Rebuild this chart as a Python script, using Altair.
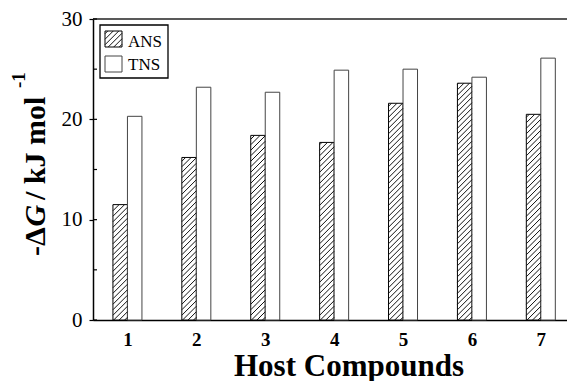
import altair as alt
import pandas as pd

# Binding free energies for the seven host compounds
compounds = [1, 2, 3, 4, 5, 6, 7]
ans_values = [11.5, 16.2, 18.4, 17.7, 21.6, 23.6, 20.5]
tns_values = [20.3, 23.2, 22.7, 24.9, 25.0, 24.2, 26.1]
series = ["ANS", "TNS"]
y_major = [0, 10, 20, 30]
y_minor = [5, 15, 25]

# plot geometry
W, H = 474, 301
X_MIN, X_MAX = 0.5, 7.38
Y_MAX = 30
KX = W / (X_MAX - X_MIN)   # px per x unit
KY = H / Y_MAX             # px per y unit
BAR = 14.5 / KX            # bar width in x units
SERIF = "Liberation Serif"


def px_x(p):
    return X_MIN + p / KX


def px_y(p):
    return Y_MAX - p / KY


def hatch_rect(x0, x1, y_bot, y_top, step=5.5):
    """45-degree hatch segments inside a rectangle given in data units."""
    w = (x1 - x0) * KX
    h = (y_top - y_bot) * KY
    rows = []
    c = -w + step / 2
    while c < h:
        u0, u1 = max(0.0, -c), min(w, h - c)
        if u1 > u0:
            rows.append({
                "hx": x0 + u0 / KX, "hy": y_bot + (u0 + c) / KY,
                "hx2": x0 + u1 / KX, "hy2": y_bot + (u1 + c) / KY,
            })
        c += step
    return rows


rows = []
for c, a, t in zip(compounds, ans_values, tns_values):
    rows.append({"compound": c, "series": series[0], "value": a, "x0": c - BAR, "x1": c})
    rows.append({"compound": c, "series": series[1], "value": t, "x0": c, "x1": c + BAR})
bars = pd.DataFrame(rows)

hatch_rows = []
for _, r in bars[bars.series == series[0]].iterrows():
    hatch_rows += hatch_rect(r.x0, r.x1, 0, r.value)

# legend geometry (pixel offsets inside the plot area)
legend_box = pd.DataFrame([{"lx": px_x(7), "lx2": px_x(75), "ly": px_y(6), "ly2": px_y(59)}])
legend_swatch = pd.DataFrame([
    {"series": series[0], "lx": px_x(12), "lx2": px_x(29), "ly": px_y(12), "ly2": px_y(28), "ty": px_y(27.5)},
    {"series": series[1], "lx": px_x(12), "lx2": px_x(29), "ly": px_y(37), "ly2": px_y(53), "ty": px_y(51)},
])
legend_swatch["tx"] = px_x(35)
legend_hatch = pd.DataFrame(hatch_rect(px_x(12), px_x(29), px_y(28), px_y(12)))
hatches = pd.DataFrame(hatch_rows)

xs = alt.Scale(domain=[X_MIN, X_MAX], nice=False, zero=False)
ys = alt.Scale(domain=[0, Y_MAX], nice=False)

x_axis = alt.Axis(values=compounds, format="d", title=None, ticks=False, grid=False,
                  labelFont=SERIF, labelFontWeight="bold", labelFontSize=19,
                  labelPadding=10, labelColor="black",
                  domainColor="black", domainWidth=1.5)
y_axis = alt.Axis(values=y_major, title=None, grid=False, tickSize=4,
                  tickColor="black", tickWidth=1.2,
                  labelFont=SERIF, labelFontSize=21, labelPadding=7, labelColor="black",
                  domainColor="black", domainWidth=1.5)


def X(field):
    return alt.X(field, type="quantitative", scale=xs, axis=x_axis)


def Y(field):
    return alt.Y(field, type="quantitative", scale=ys, axis=y_axis)


stroke_enc = alt.Stroke("series:N", scale=alt.Scale(domain=series, range=["#000000", "#444444"]), legend=None)

bar_layer = alt.Chart(bars).mark_rect(fill="white", strokeWidth=1).encode(
    x=X("x0"), x2="x1", y=Y("value"), y2=alt.datum(0), stroke=stroke_enc,
)

hatch_layer = alt.Chart(hatches).mark_rule(color="#111111", strokeWidth=1).encode(
    x=X("hx"), x2="hx2", y=Y("hy"), y2="hy2",
)

top_frame = alt.Chart(pd.DataFrame({"t": [Y_MAX]})).mark_rule(color="#222222", strokeWidth=1.5).encode(
    y=Y("t"), x=alt.value(0), x2=alt.value(W),
)

inner_ticks = alt.Chart(pd.DataFrame({"t": y_major + y_minor})).mark_rule(color="black", strokeWidth=1.2).encode(
    y=Y("t"), x=alt.value(0), x2=alt.value(4),
)

box_layer = alt.Chart(legend_box).mark_rect(fill="white", stroke="black", strokeWidth=1.3).encode(
    x=X("lx"), x2="lx2", y=Y("ly"), y2="ly2",
)
swatch_layer = alt.Chart(legend_swatch).mark_rect(fill="white", strokeWidth=1).encode(
    x=X("lx"), x2="lx2", y=Y("ly"), y2="ly2", stroke=stroke_enc,
)
swatch_hatch = alt.Chart(legend_hatch).mark_rule(color="#111111", strokeWidth=1).encode(
    x=X("hx"), x2="hx2", y=Y("hy"), y2="hy2",
)
legend_text = alt.Chart(legend_swatch).mark_text(
    font=SERIF, fontSize=17, align="left", baseline="alphabetic", color="black"
).encode(
    x=X("tx"), y=Y("ty"), text="series:N",
)

# rotated y title assembled from pieces: -ΔG / kJ mol^-1
# each piece: text, style, size, baseline x, start y (text runs upward)
TX, TY, FS = -48, 237, 30
title_parts = [
    ("-\u0394", "normal", FS, TX, TY),
    ("G", "italic", FS, TX, TY - 29.5),
    (" / kJ mol", "normal", FS, TX, TY - 56),
    ("-1", "normal", 19, TX - 20, TY - 168),
]
title_layers = [
    alt.Chart(pd.DataFrame({"s": [txt]})).mark_text(
        font=SERIF, fontWeight="bold", fontStyle=style, fontSize=size,
        angle=270, align="left", baseline="alphabetic", color="black",
    ).encode(x=alt.value(bx), y=alt.value(by), text="s:N")
    for txt, style, size, bx, by in title_parts
]

x_title = alt.Chart(pd.DataFrame({"s": ["Host Compounds"]})).mark_text(
    font=SERIF, fontWeight="bold", fontSize=31, align="center", baseline="alphabetic", color="black"
).encode(x=alt.value(256), y=alt.value(357), text="s:N")

chart = alt.layer(
    bar_layer, hatch_layer, top_frame, inner_ticks,
    box_layer, swatch_layer, swatch_hatch, legend_text, x_title, *title_layers,
).properties(
    width=W, height=H,
    autosize=alt.AutoSizeParams(type="none"),
    padding={"left": 93, "top": 19, "right": 0, "bottom": 61},
    background="white",
).configure_view(stroke=None)

chart.save("out.html", embed_options={"renderer": "svg", "actions": False})
